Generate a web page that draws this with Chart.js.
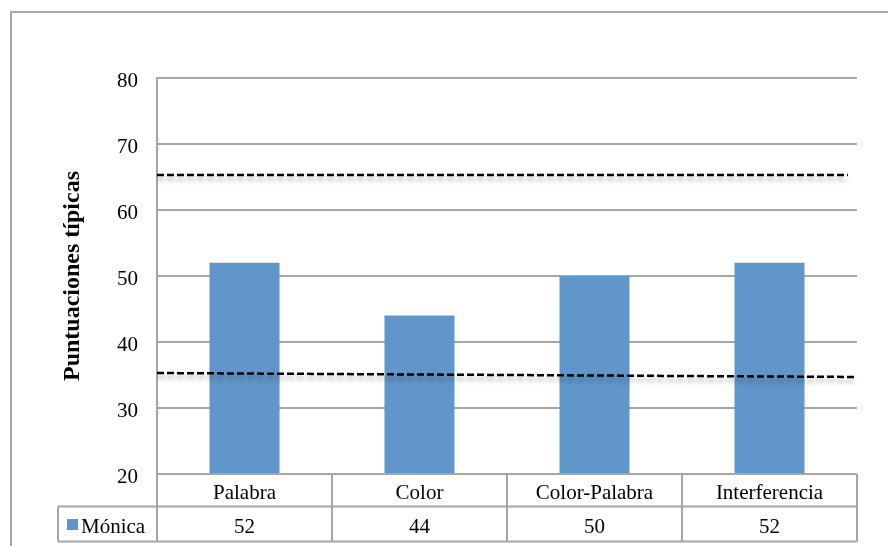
<!DOCTYPE html>
<html>
<head>
<meta charset="utf-8">
<script src="https://cdn.jsdelivr.net/npm/chart.js@4"></script>
<style>
  html, body { margin: 0; padding: 0; background: #fff; }
  #wrap { width: 888px; height: 546px; position: relative; }
</style>
</head>
<body>
<div id="wrap"><canvas id="c"></canvas></div>
<script>
// Stroop test scores (T-scores) per subtest
const categories = ['Palabra', 'Color', 'Color-Palabra', 'Interferencia'];
const seriesName = 'Mónica';
const scores = [52, 44, 50, 52];

// Reference band limits (start / end of each dashed line)
const upperLimit = [65.3, 65.3];
const upperSpan = [0, 0.987];
const lowerLimit = [35.3, 34.7];
const lowerSpan = [0, 1];

const yTicks = [20, 30, 40, 50, 60, 70, 80];

const FONT = '"Liberation Serif", "Times New Roman", serif';
const GRID = '#a6a6a6';
const BAR = '#6096ca';

// Outer frame around the chart
const framePlugin = {
  id: 'frame',
  beforeDraw(chart) {
    const ctx = chart.ctx;
    ctx.save();
    ctx.fillStyle = '#fff';
    ctx.fillRect(0, 0, chart.width, chart.height);
    ctx.strokeStyle = GRID;
    ctx.lineWidth = 2;
    ctx.strokeRect(11, 12, chart.width + 20, chart.height + 20);
    ctx.restore();
  }
};

// Soft drop shadow under the dashed reference lines
const shadowPlugin = {
  id: 'lineShadow',
  beforeDatasetDraw(chart, args) {
    if (chart.data.datasets[args.index].type !== 'line') return;
    const ctx = chart.ctx;
    ctx.save();
    ctx.shadowColor = 'rgba(0,0,0,0.35)';
    ctx.shadowBlur = 5;
    ctx.shadowOffsetY = 4;
  },
  afterDatasetDraw(chart, args) {
    if (chart.data.datasets[args.index].type !== 'line') return;
    chart.ctx.restore();
  }
};

// Data table under the plot: category row + series row
const tablePlugin = {
  id: 'dataTable',
  afterDraw(chart) {
    const ctx = chart.ctx;
    const x = chart.scales.x;
    const area = chart.chartArea;
    const top = area.bottom;
    const mid = top + 32.5;
    const bot = mid + 35;
    const legendLeft = 58;
    const n = categories.length;
    const half = (x.getPixelForValue(1) - x.getPixelForValue(0)) / 2;

    ctx.save();
    ctx.strokeStyle = GRID;
    ctx.lineWidth = 2;
    ctx.beginPath();
    ctx.moveTo(legendLeft, mid); ctx.lineTo(area.right, mid);
    ctx.moveTo(legendLeft, bot); ctx.lineTo(area.right, bot);
    ctx.moveTo(legendLeft, mid); ctx.lineTo(legendLeft, bot);
    for (let i = 0; i <= n; i++) {
      const px = i < n ? x.getPixelForValue(i) - half : x.getPixelForValue(n - 1) + half;
      ctx.moveTo(px, top); ctx.lineTo(px, bot);
    }
    ctx.moveTo(area.left, top); ctx.lineTo(area.right, top);
    ctx.stroke();

    ctx.fillStyle = '#000';
    ctx.textAlign = 'center';
    ctx.textBaseline = 'middle';
    ctx.font = '21px ' + FONT;
    categories.forEach((c, i) => ctx.fillText(c, x.getPixelForValue(i), (top + mid) / 2 + 3));
    scores.forEach((v, i) => ctx.fillText(String(v), x.getPixelForValue(i), (mid + bot) / 2 + 3));

    // series key
    ctx.fillStyle = BAR;
    ctx.fillRect(67, (mid + bot) / 2 - 5, 11, 11);
    ctx.fillStyle = '#000';
    ctx.textAlign = 'left';
    ctx.fillText(seriesName, 81, (mid + bot) / 2 + 3);
    ctx.restore();
  }
};

new Chart(document.getElementById('c'), {
  data: {
    labels: categories,
    datasets: [
      {
        type: 'bar',
        label: seriesName,
        data: scores,
        backgroundColor: BAR,
        borderWidth: 0,
        barPercentage: 0.4,
        categoryPercentage: 1.0,
        grouped: false,
        xAxisID: 'x',
        order: 2
      },
      {
        type: 'line',
        label: 'Límite superior',
        data: upperSpan.map((s, i) => ({ x: s, y: upperLimit[i] })),
        borderColor: '#000',
        borderWidth: 2.5,
        borderDash: [7, 3],
        pointRadius: 0,
        fill: false,
        xAxisID: 'xl',
        order: 1
      },
      {
        type: 'line',
        label: 'Límite inferior',
        data: lowerSpan.map((s, i) => ({ x: s, y: lowerLimit[i] })),
        borderColor: '#000',
        borderWidth: 2.5,
        borderDash: [7, 3],
        pointRadius: 0,
        fill: false,
        xAxisID: 'xl',
        order: 1
      }
    ]
  },
  options: {
    responsive: true,
    maintainAspectRatio: false,
    animation: false,
    layout: { padding: { left: 0, top: 78, right: 31, bottom: 72 } },
    plugins: { legend: { display: false }, tooltip: { enabled: false } },
    scales: {
      x: {
        type: 'category',
        display: false,
        offset: true
      },
      xl: {
        type: 'linear',
        display: false,
        min: 0,
        max: 1
      },
      y: {
        min: 20,
        max: 80,
        afterFit(scale) { scale.width = 157; },
        afterBuildTicks(scale) { scale.ticks = yTicks.map(v => ({ value: v })); },
        ticks: {
          padding: 19,
          labelOffset: 3,
          color: '#000',
          font: { family: FONT, size: 21 }
        },
        grid: { color: GRID, lineWidth: 2, drawTicks: false },
        border: { display: true, color: GRID, width: 2 },
        title: {
          display: true,
          text: 'Puntuaciones típicas',
          color: '#000',
          font: { family: FONT, size: 24, weight: 'bold' },
          padding: { top: 58, bottom: 0 }
        }
      }
    }
  },
  plugins: [framePlugin, shadowPlugin, tablePlugin]
});
</script>
</body>
</html>
